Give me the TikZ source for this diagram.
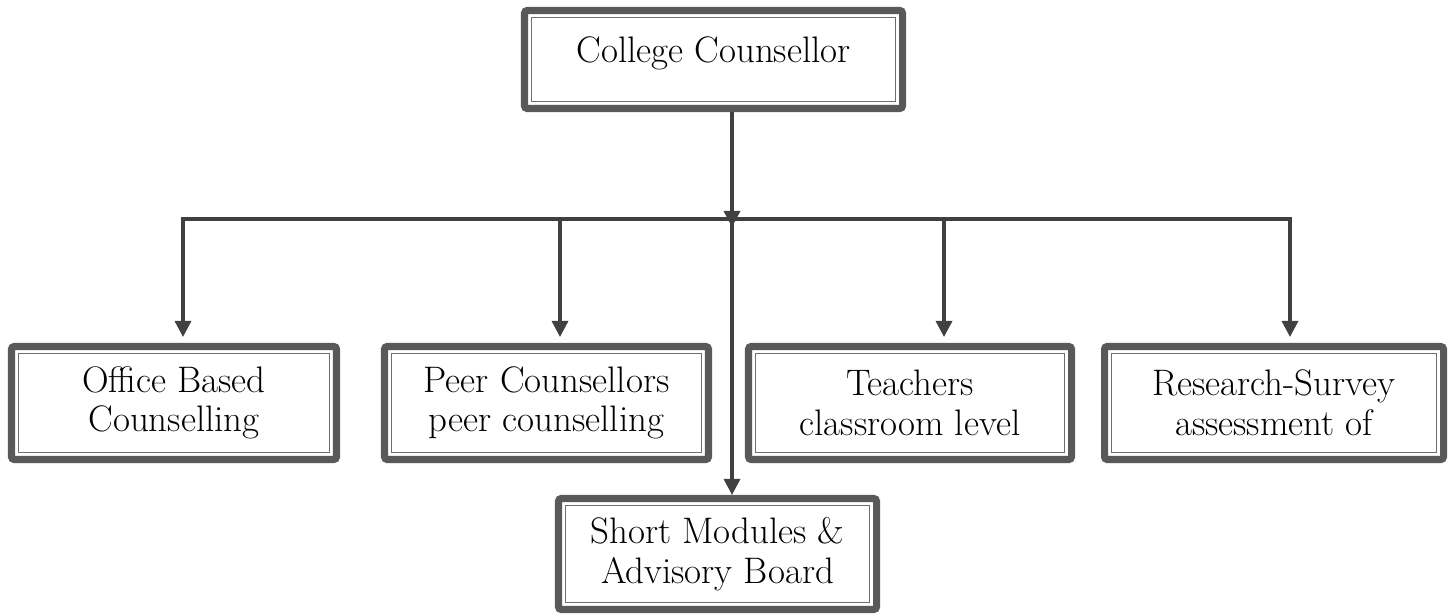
\documentclass[tikz,border=0pt]{standalone}
\usetikzlibrary{arrows.meta}
\usetikzlibrary{positioning}
\definecolor{boxgray}{HTML}{595959}
\definecolor{innergray}{HTML}{6E6E6E}
\definecolor{linegray}{HTML}{404040}
\tikzset{framebox/.style = {draw=boxgray, line width=4pt, rounded corners=1.5pt,
                            fill=white, inner sep=0pt, align=center,
                            minimum height=2.26cm,
                            font=\fontsize{21}{22.5}\selectfont,
                            path picture={\draw [innergray, line width=1pt, sharp corners]
                              ([shift={(4pt,4pt)}]path picture bounding box.south west) rectangle
                              ([shift={(-4pt,-4pt)}]path picture bounding box.north east);}},
         link/.style = {draw=linegray, line width=1.9pt,
                        -{Triangle[length=0.32cm, width=0.32cm]}}}

\begin{document}
\begin{tikzpicture}
      \useasboundingbox (0, 0) rectangle (29.08, -12.28);
      % top
      \node [framebox, minimum width=7.56cm, minimum height=1.96cm, text depth=0.39cm]
            (coll) at (14.27, -1.19) {College Counsellor};
      \coordinate (hub) at (14.64, -4.38);
      % second row
      \node [framebox, minimum width=6.50cm] (office) at (3.48, -8.06) {Office Based\\Counselling};
      \node [framebox, minimum width=6.48cm] (peer) at (10.93, -8.06) {Peer Counsellors\\peer counselling};
      \node [framebox, minimum width=6.46cm] (teach) at (18.20, -8.06) {Teachers\\classroom level};
      \node [framebox, minimum width=6.78cm] (survey) at (25.48, -8.06) {Research-Survey\\assessment of};
      % bottom
      \node [framebox, minimum width=6.36cm, minimum height=2.22cm] (board) at (14.35, -11.08) {Short Modules \&\\Advisory Board};
      % connectors
      \draw [link] (hub) -| ([xshift=0.18cm, yshift=0.12cm]office.north);
      \draw [link] (hub) -| ([xshift=0.27cm, yshift=0.12cm]peer.north);
      \draw [link] (hub) -| ([xshift=0.68cm, yshift=0.12cm]teach.north);
      \draw [link] (hub) -| ([xshift=0.32cm, yshift=0.12cm]survey.north);
      \draw [link] (coll.south -| hub) -- ([yshift=-0.16cm]hub);
      \draw [link] (hub) -- (board.north -| hub);
    \end{tikzpicture}
\end{document}
